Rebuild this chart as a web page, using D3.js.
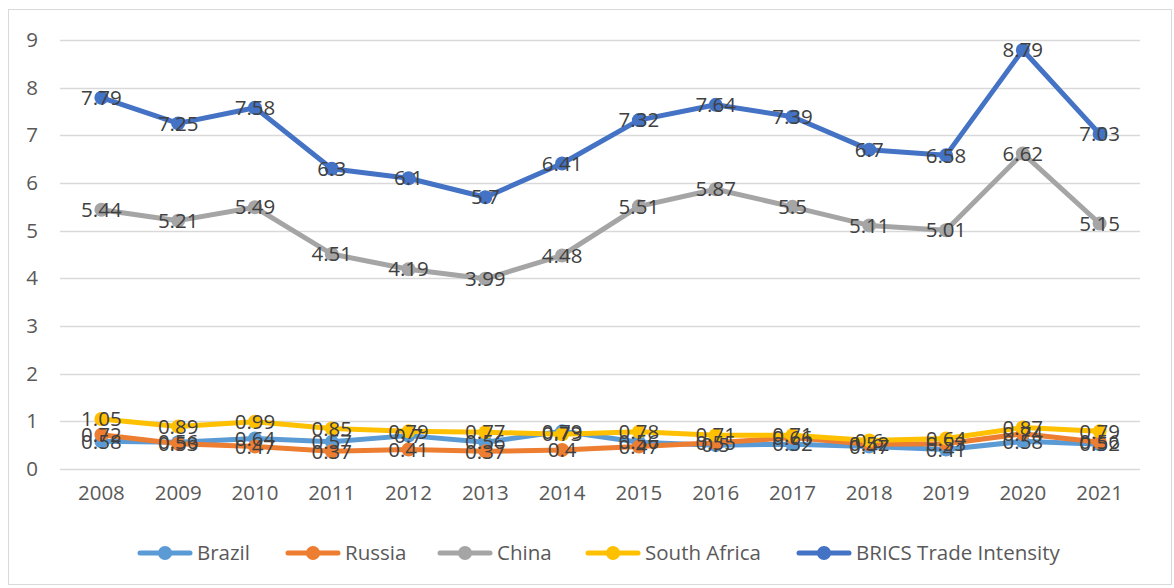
<!DOCTYPE html>
<html>
<head>
<meta charset="utf-8">
<script src="https://cdn.jsdelivr.net/npm/d3@7"></script>
<style>
  body { margin: 0; background: #fff; }
  text { font-family: "Open Sans", sans-serif; }
</style>
</head>
<body>
<div id="chart-area"></div>
<script>
var years = ["2008", "2009", "2010", "2011", "2012", "2013", "2014", "2015", "2016", "2017", "2018", "2019", "2020", "2021"]
var brazil = [0.58, 0.56, 0.64, 0.57, 0.7, 0.56, 0.79, 0.56, 0.5, 0.52, 0.47, 0.41, 0.58, 0.52]
var russia = [0.72, 0.53, 0.47, 0.37, 0.41, 0.37, 0.4, 0.47, 0.55, 0.66, 0.52, 0.53, 0.74, 0.56]
var china = [5.44, 5.21, 5.49, 4.51, 4.19, 3.99, 4.48, 5.51, 5.87, 5.5, 5.11, 5.01, 6.62, 5.15]
var southAfrica = [1.05, 0.89, 0.99, 0.85, 0.79, 0.77, 0.73, 0.78, 0.71, 0.71, 0.6, 0.64, 0.87, 0.79]
var brics = [7.79, 7.25, 7.58, 6.3, 6.1, 5.7, 6.41, 7.32, 7.64, 7.39, 6.7, 6.58, 8.79, 7.03]
var yTicks = [0, 1, 2, 3, 4, 5, 6, 7, 8, 9]

var series = [
    {name: "Brazil", values: brazil, color: "#5B9BD5"},
    {name: "Russia", values: russia, color: "#ED7D31"},
    {name: "China", values: china, color: "#A5A5A5"},
    {name: "South Africa", values: southAfrica, color: "#FFC000"},
    {name: "BRICS Trade Intensity", values: brics, color: "#4472C4"}
]

var width = 1174, height = 588

var svg = d3.select("#chart-area").append("svg")
    .attr("width", width)
    .attr("height", height)

// outer chart border
svg.append("rect")
    .attr("x", 8.5).attr("y", 9.5)
    .attr("width", 1163).attr("height", 575)
    .attr("fill", "none")
    .attr("stroke", "#d9d9d9")

var x = d3.scaleBand()
    .domain(years)
    .range([63, 1138])

var y = d3.scaleLinear()
    .domain([0, 9])
    .range([469, 40])

// gridlines
svg.append("g")
    .selectAll("line")
    .data(yTicks)
    .enter().append("line")
    .attr("x1", 60).attr("x2", 1140)
    .attr("y1", function(d) { return Math.round(y(d)) + 0.5 })
    .attr("y2", function(d) { return Math.round(y(d)) + 0.5 })
    .attr("stroke", "#d9d9d9")
    .attr("stroke-width", 1.5)

// y axis labels
var yAxis = svg.append("g")
    .attr("transform", "translate(38,0)")
    .call(d3.axisLeft(y).tickValues(yTicks).tickSize(0).tickPadding(0))
yAxis.select(".domain").remove()
yAxis.selectAll("text")
    .attr("fill", "#595959")
    .style("font-size", "20.5px")

// x axis labels
var xAxis = svg.append("g")
    .attr("transform", "translate(0,485)")
    .call(d3.axisBottom(x).tickSize(0).tickPadding(0))
xAxis.select(".domain").remove()
xAxis.selectAll("text")
    .attr("fill", "#595959")
    .style("font-size", "20.5px")

var line = d3.line()
    .x(function(d, i) { return x(years[i]) + x.bandwidth() / 2 })
    .y(function(d) { return y(d) })

series.forEach(function(s) {
    var g = svg.append("g")
    g.append("path")
        .attr("d", line(s.values))
        .attr("fill", "none")
        .attr("stroke", s.color)
        .attr("stroke-width", 5)
        .attr("stroke-linejoin", "round")
        .attr("stroke-linecap", "round")
    g.selectAll("circle")
        .data(s.values)
        .enter().append("circle")
        .attr("cx", function(d, i) { return x(years[i]) + x.bandwidth() / 2 })
        .attr("cy", function(d) { return y(d) })
        .attr("r", 7)
        .attr("fill", s.color)
})

// data labels, centred on points
series.forEach(function(s) {
    svg.append("g")
        .selectAll("text")
        .data(s.values)
        .enter().append("text")
        .attr("x", function(d, i) { return x(years[i]) + x.bandwidth() / 2 })
        .attr("y", function(d) { return y(d) })
        .attr("dy", "0.35em")
        .attr("text-anchor", "middle")
        .attr("fill", "#404040")
        .style("font-size", "20.5px")
        .text(function(d) { return d })
})

// legend
var legendX = [138, 286, 438, 586, 797]
var legend = svg.append("g")
    .selectAll("g")
    .data(series)
    .enter().append("g")
    .attr("transform", function(d, i) { return "translate(" + legendX[i] + ",553)" })

legend.append("line")
    .attr("x1", 2).attr("x2", 52)
    .attr("stroke", function(d) { return d.color })
    .attr("stroke-width", 5)
    .attr("stroke-linecap", "round")
legend.append("circle")
    .attr("cx", 27).attr("r", 7)
    .attr("fill", function(d) { return d.color })
legend.append("text")
    .attr("x", 59)
    .attr("dy", "0.35em")
    .attr("fill", "#595959")
    .style("font-size", "20.5px")
    .text(function(d) { return d.name })
</script>
</body>
</html>
